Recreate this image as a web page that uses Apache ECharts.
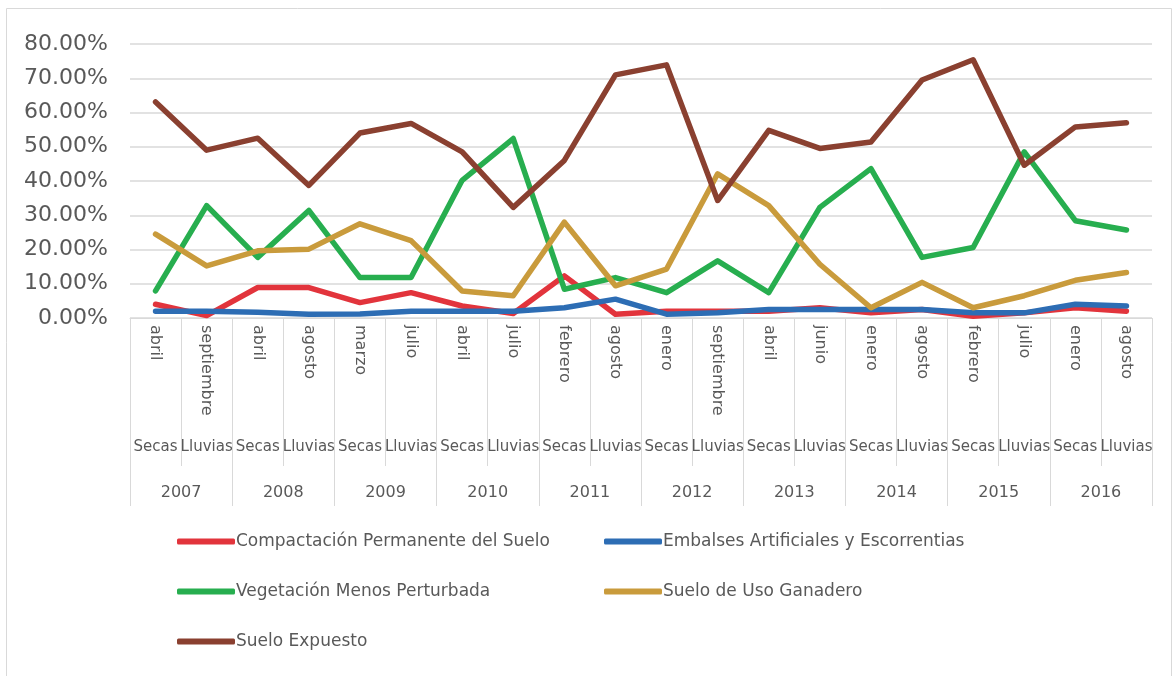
<!DOCTYPE html>
<html>
<head>
<meta charset="utf-8">
<script src="https://cdn.jsdelivr.net/npm/echarts@6/dist/echarts.min.js"></script>
<style>
html,body{margin:0;padding:0;background:#fff;}
#chart{width:1175px;height:676px;}
</style>
</head>
<body>
<div id="chart"></div>
<script>
const months = ['abril','septiembre','abril','agosto','marzo','julio','abril','julio','febrero','agosto','enero','septiembre','abril','junio','enero','agosto','febrero','julio','enero','agosto'];
const seasons = ['Secas','Lluvias','Secas','Lluvias','Secas','Lluvias','Secas','Lluvias','Secas','Lluvias','Secas','Lluvias','Secas','Lluvias','Secas','Lluvias','Secas','Lluvias','Secas','Lluvias'];
const years = ['2007','2008','2009','2010','2011','2012','2013','2014','2015','2016'];
const yTicks = [0,0.1,0.2,0.3,0.4,0.5,0.6,0.7,0.8];

const compactacion = [0.040,0.007,0.089,0.089,0.045,0.074,0.035,0.013,0.123,0.011,0.020,0.020,0.020,0.030,0.015,0.025,0.005,0.015,0.030,0.020];
const embalses     = [0.020,0.020,0.017,0.011,0.012,0.020,0.020,0.020,0.030,0.055,0.011,0.015,0.025,0.025,0.025,0.025,0.015,0.015,0.040,0.035];
const vegetacion   = [0.079,0.328,0.177,0.314,0.118,0.118,0.402,0.524,0.084,0.118,0.074,0.167,0.074,0.323,0.436,0.177,0.206,0.485,0.284,0.257];
const ganadero     = [0.245,0.152,0.196,0.201,0.275,0.226,0.079,0.065,0.280,0.094,0.143,0.421,0.328,0.157,0.030,0.104,0.030,0.065,0.110,0.133];
const expuesto     = [0.631,0.490,0.525,0.387,0.540,0.568,0.485,0.323,0.460,0.710,0.739,0.343,0.548,0.495,0.514,0.695,0.754,0.446,0.558,0.570];

const seriesNames = ['Compactación Permanente del Suelo','Embalses Artificiales y Escorrentias','Vegetación Menos Perturbada','Suelo de Uso Ganadero','Suelo Expuesto'];
const seriesData = [compactacion, embalses, vegetacion, ganadero, expuesto];
const colors = ['#e2343c','#2d6db4','#27ae4f','#c99b3c','#8a4030'];

const FONT = 'DejaVu Sans';
const TXT = '#595959';
const GRID = '#d9d9d9';

const chart = echarts.init(document.getElementById('chart'), null, {renderer:'canvas'});

const legendPos = [[177,543],[604,543],[177,593],[604,593],[177,643]];
const legends = seriesNames.map((n,i)=>({
  data:[n], left:legendPos[i][0], top:legendPos[i][1]-10, padding:0,
  icon:'roundRect', itemWidth:58, itemHeight:6, itemGap:0,
  textStyle:{fontFamily:FONT, fontSize:17, color:TXT, padding:[0,0,0,-4]}
}));

chart.setOption({
  animation:false,
  color:colors,
  graphic:[{type:'rect', shape:{x:6.5,y:8.5,width:1165,height:700}, style:{fill:null, stroke:'#d9d9d9', lineWidth:1}, silent:true}],
  grid:{left:130, right:23, top:44, bottom:358, containLabel:false},
  legend:legends,
  xAxis:[
    {type:'category', data:months, boundaryGap:true, position:'bottom',
     axisLine:{show:true, lineStyle:{color:GRID, width:1}},
     axisTick:{show:true, length:148, interval:0, lineStyle:{color:GRID}},
     axisLabel:{interval:0, rotate:-90, margin:7, fontFamily:FONT, fontSize:16, color:TXT}},
    {type:'category', data:seasons, boundaryGap:true, position:'bottom',
     axisLine:{show:false}, axisTick:{show:false},
     axisLabel:{interval:0, margin:122, fontFamily:FONT, fontSize:15, color:TXT}},
    {type:'category', data:years, boundaryGap:true, position:'bottom',
     axisLine:{show:false},
     axisTick:{show:true, length:188, interval:0, lineStyle:{color:GRID}},
     axisLabel:{interval:0, margin:167, fontFamily:FONT, fontSize:16, color:TXT}}
  ],
  yAxis:{type:'value', min:yTicks[0], max:yTicks[yTicks.length-1], interval:0.1,
    axisLine:{show:false}, axisTick:{show:false},
    splitLine:{show:true, lineStyle:{color:GRID, width:1.5}},
    axisLabel:{margin:22, fontFamily:FONT, fontSize:22, color:TXT,
      formatter:v=>(v*100).toFixed(2)+'%'}},
  series:seriesNames.map((n,i)=>({
    name:n, type:'line', xAxisIndex:0, data:seriesData[i],
    symbol:'none', smooth:false,
    lineStyle:{width:5.5, color:colors[i], cap:'round', join:'round'},
    itemStyle:{color:colors[i]}, z:2+i
  }))
});
</script>
</body>
</html>
